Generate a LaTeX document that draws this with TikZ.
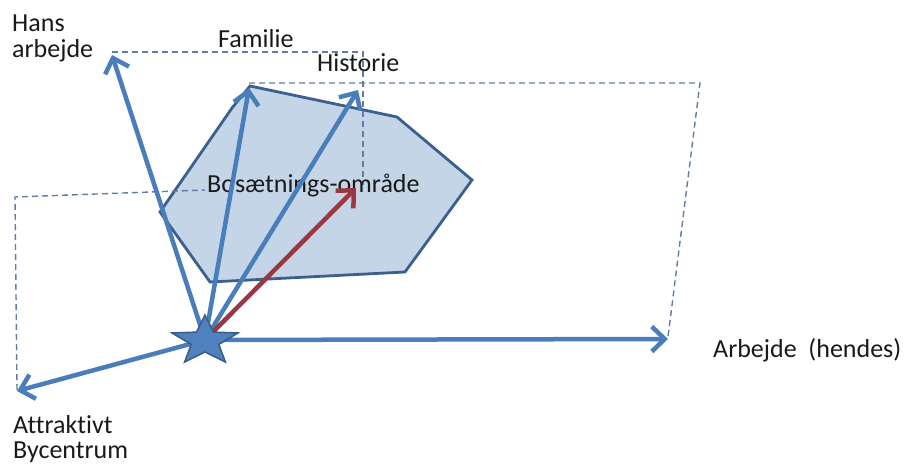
\documentclass[tikz,border=0pt]{standalone}
\usepackage{fontspec}
\setmainfont[Ligatures={NoCommon}]{Carlito}
\usetikzlibrary{arrows.meta}
\definecolor{arrblue}{RGB}{74,126,187}
\definecolor{polyfill}{RGB}{197,213,232}
\definecolor{polyline}{RGB}{60,96,140}
\definecolor{dashcol}{RGB}{95,125,165}
\definecolor{redarr}{RGB}{155,55,65}
\definecolor{starfill}{RGB}{79,129,189}
\definecolor{starline}{RGB}{56,93,138}
\definecolor{txt}{RGB}{25,25,25}
\tikzset{
  vec/.style={draw=arrblue, line width=4.5pt, -{Straight Barb[length=13pt,width=25pt,line width=4.5pt]}},
  redvec/.style={vec, draw=redarr},
  guide/.style={draw=dashcol, line width=1.4pt, dash pattern=on 6pt off 4pt},
  lbl/.style={text=txt, inner sep=0pt, font=\fontsize{26}{30}\selectfont},
  area/.style={draw=polyline, fill=polyfill, line width=2.8pt, line join=miter},
  starshape/.style={draw=starline, fill=starfill, line width=1.5pt, line join=miter}
}
\begin{document}
\begin{tikzpicture}[x=1pt,y=-1pt]
\useasboundingbox (0,0) rectangle (905,468);
% coordinates
\coordinate (S) at (205,340);
\coordinate (Hans) at (112,55);
\coordinate (Fam) at (249,88);
\coordinate (Hist) at (358,90);
\coordinate (Bos) at (356,188);
\coordinate (Arb) at (668,339);
\coordinate (Attr) at (17,391);
% settlement area
\draw[area] (160,212) -- (232,108) -- (250,86) -- (397,117) -- (472,180) -- (405,272) -- (210,282) -- cycle;
% guide lines
\coordinate (g1a) at (112,52); \coordinate (g1b) at (363,52); \coordinate (g1c) at (363,185);
\draw[guide] (g1a) -- (g1b) -- (g1c);
\coordinate (g2a) at (249,83); \coordinate (g2b) at (700,83); \coordinate (g2c) at (668,337);
\draw[guide] (g2a) -- (g2b) -- (g2c);
\coordinate (g3a) at (17,390); \coordinate (g3b) at (15,197); \coordinate (g3c) at (205,190);
\draw[guide] (g3a) -- (g3b) -- (g3c);
% labels
\node[lbl, anchor=base west] (tHans) at (12,32) {Hans};
\node[lbl, anchor=base west] (tArb1) at (12,58) {arbejde};
\node[lbl, anchor=base west] (tFam) at (218,48) {Familie};
\node[lbl, anchor=base west] (tHist) at (317,72) {Historie};
\node[lbl, anchor=base west] (tBos) at (207,192) {Bosætnings-område};
\node[lbl, anchor=base west] (tArb) at (713,357) {Arbejde\ \ (hendes)};
\node[lbl, anchor=base west] (tAttr) at (13,433) {Attraktivt};
\node[lbl, anchor=base west] (tBy) at (13,458) {Bycentrum};
% vectors
\draw[vec] (S) -- (Hans);
\draw[vec] (S) -- (Fam);
\draw[vec] (S) -- (Hist);
\draw[vec] (S) -- (Arb);
\draw[vec] (S) -- (Attr);
\draw[redvec] (S) -- (Bos);
% star
\draw[starshape] plot[samples at={0,...,9}] ({205+(mod(\x,2)==0 ? 34.7 : 14.5)*cos(90+36*\x)}, {341-(mod(\x,2)==0 ? 26 : 11)*sin(90+36*\x)}) -- cycle;
\end{tikzpicture}
\end{document}
